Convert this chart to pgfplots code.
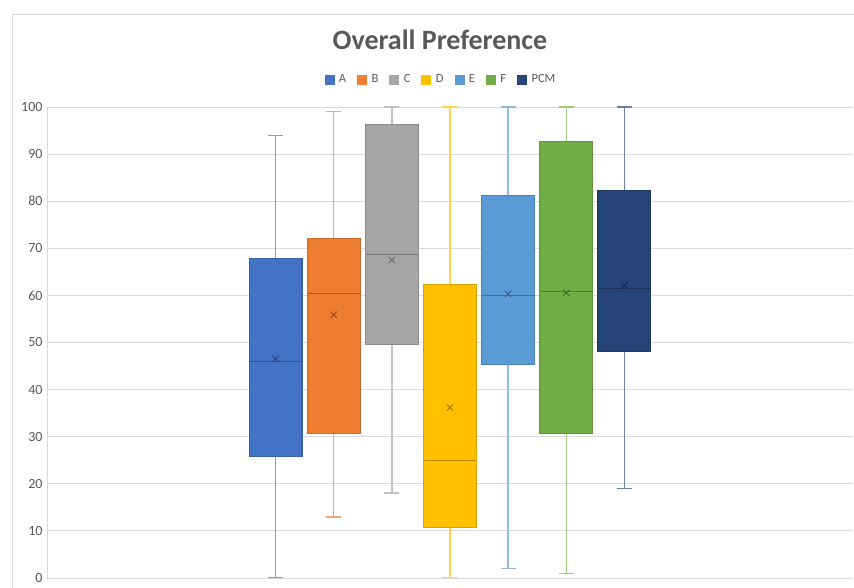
\documentclass[border=0pt]{standalone}
\usepackage{fontspec}
\setmainfont{Carlito}
\usepackage{pgfplots}
\pgfplotsset{compat=1.18}
\usepgfplotslibrary{statistics}
\definecolor{cA}{HTML}{4472C4}
\definecolor{cB}{HTML}{ED7D31}
\definecolor{cC}{HTML}{A5A5A5}
\definecolor{cD}{HTML}{FFC000}
\definecolor{cE}{HTML}{5B9BD5}
\definecolor{cF}{HTML}{70AD47}
\definecolor{cP}{HTML}{264478}
\definecolor{txt}{HTML}{595959}
\definecolor{gridc}{HTML}{D9D9D9}
\newcommand{\mybox}[8]{%
\addplot[boxplot/draw direction=y, boxplot prepared={draw position=#1, lower whisker=#3, lower quartile=#4, median=#5, upper quartile=#6, upper whisker=#7,
  box extend=0.91, whisker extend=0.26,
  every box/.style={draw=#2!85!black, fill=#2, line width=1.1pt},
  every whisker/.style={draw=#2!68!white, line width=1.5pt},
  every median/.style={draw=#2!72!black, line width=1.1pt}},
  legend image code/.code={\fill[#2] (0pt,-4.5pt) rectangle (9pt,4.5pt);}] coordinates {};
\addplot[only marks, mark=x, mark size=4.5pt, mark options={draw=#2!62!black, line width=0.9pt}, forget plot] coordinates {(#1,#8)};
}
\begin{document}
\begin{tikzpicture}[x=1pt,y=1pt]
\useasboundingbox (0,0) rectangle (854,588);
\draw[gridc, line width=0.8pt] (12,0) -- (12,574) -- (860,574);
\node[txt, font=\fontsize{28}{32}\selectfont\bfseries] at (440,548) {Overall Preference};
\begin{axis}[
  at={(47pt,10pt)}, anchor=south west,
  scale only axis, width=806pt, height=471pt,
  xmin=-2.93, xmax=10.93, ymin=0, ymax=100,
  xtick=\empty, ytick={0,10,...,100},
  axis x line=none, axis y line*=left,
  y axis line style={draw=gridc, line width=0.8pt, -},
  ymajorgrids, grid style={draw=gridc, line width=0.8pt},
  major tick length=0pt,
  yticklabel style={txt, font=\fontsize{14}{16}\selectfont, xshift=-1pt},
  /pgf/number format/assume math mode=true,
  legend style={at={(0.4888,1.0585)}, anchor=center, draw=none, fill=none,
    legend columns=-1, font=\fontsize{12.5}{14}\selectfont, text=txt,
    /tikz/every even column/.append style={column sep=9pt},
    /tikz/every odd column/.append style={column sep=3pt}},
  legend cell align=left,
]
\mybox{1}{cA}{0}{25.8}{45.9}{67.8}{94}{46.5}
\addlegendentry{A}
\mybox{2}{cB}{13.0}{30.6}{60.4}{72.0}{99.0}{55.9}
\addlegendentry{B}
\mybox{3}{cC}{18.0}{49.5}{68.6}{96.2}{100}{67.5}
\addlegendentry{C}
\mybox{4}{cD}{0}{10.8}{24.9}{62.4}{100}{36.2}
\addlegendentry{D}
\mybox{5}{cE}{2.0}{45.4}{60.0}{81.2}{100}{60.3}
\addlegendentry{E}
\mybox{6}{cF}{1.0}{30.6}{60.9}{92.6}{100}{60.5}
\addlegendentry{F}
\mybox{7}{cP}{19.0}{48.0}{61.5}{82.2}{100}{62.1}
\addlegendentry{PCM}
\end{axis}
\end{tikzpicture}
\end{document}
